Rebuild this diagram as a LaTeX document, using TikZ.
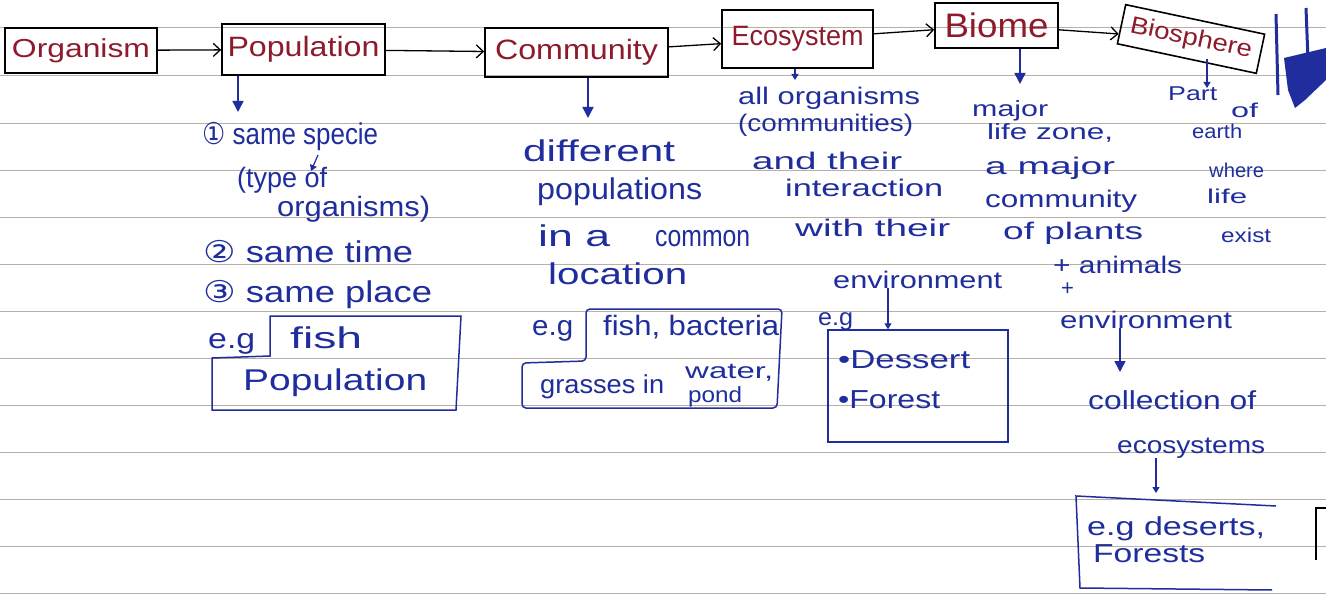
\documentclass[tikz,border=0pt]{standalone}
\usepackage{fontspec}
\setmainfont{Liberation Sans}
\newfontfamily\symf{DejaVu Sans}
\usetikzlibrary{arrows.meta}
\definecolor{ink}{HTML}{1F2E9C}
\definecolor{redink}{HTML}{8E1B2B}
\definecolor{rulec}{HTML}{B8AFA6}
\newcommand\fw[2]{\resizebox{#1pt}{\height}{#2}}
\begin{document}
\begin{tikzpicture}[x=1pt,y=-1pt,
  t/.style={inner sep=0pt, anchor=base west, text=ink, font=\fontsize{#1}{#1}\selectfont},
  lbl/.style={draw=black, line width=1.6pt, inner sep=0pt, text=redink, font=\fontsize{#1}{#1}\selectfont},
  bline/.style={draw=ink, line width=1.5pt},
  chain/.style={draw=black, line width=1.3pt, -{Straight Barb[length=7pt,width=13pt]}},
  down/.style={draw=ink, line width=1.5pt, -{Triangle[length=11pt,width=11pt]}},
  sdown/.style={draw=ink, line width=1.2pt, -{Triangle[length=6pt,width=7pt]}},
  rl/.style={draw=rulec, line width=0.8pt}]
\useasboundingbox (0,0) rectangle (1326,596);
\fill[white] (0,0) rectangle (1326,596);
% ruled lines
\foreach \yy in {27,75,123,170,217,264,311,358,405,452,499,546,593}
  \draw[rl] (0,\yy) -- (1326,\yy);

% top chain
\node[lbl=26, minimum width=152pt, minimum height=45pt] (org) at (81,50.5) {\fw{138}{Organism}};
\node[lbl=28, minimum width=163pt, minimum height=51pt] (pop) at (303.5,49.5) {\fw{152}{Population}};
\node[lbl=28, minimum width=183pt, minimum height=49pt] (com) at (576.5,52.5) {\fw{163}{Community}};
\node[lbl=28, minimum width=151pt, minimum height=58pt] (eco) at (797.5,39) {\fw{132}{Ecosystem}};
\node[lbl=34, minimum width=123pt, minimum height=45pt] (bio) at (996.5,25.5) {\fw{104}{Biome}};
\node[lbl=24, minimum width=142pt, minimum height=40pt, rotate=-12] (bsp) at (1191,39) {\fw{124}{Biosphere}};
\draw[chain] (org) -- (pop);
\draw[chain] (pop) -- (com);
\draw[chain] (com) -- (eco);
\draw[chain] (eco) -- (bio);
\draw[chain] (bio) -- (bsp);

% down arrows
\coordinate (popd) at (238,112);
\coordinate (comd) at (588,118);
\coordinate (ecod) at (795,80);
\coordinate (biod) at (1020,84);
\coordinate (bspd) at (1207,88);
\draw[down] (pop.south -| popd) -- (popd);
\draw[down] (com.south -| comd) -- (comd);
\draw[sdown] (eco.south -| ecod) -- (ecod);
\draw[down] (bio.south -| biod) -- (biod);
\draw[sdown] (bsp.south -| bspd) -- (bspd);

% Population column
\node[t=30] (p1) at (202,145) {\fw{176}{{\symf ①} same specie}};
\node[t=28] (p2) at (237,188) {\fw{90}{(type of}};
\node[t=28] (p3) at (277,217) {\fw{153}{organisms)}};
\node[t=30] (p4) at (203,263) {\fw{210}{{\symf ②} same time}};
\node[t=30] (p5) at (203,302) {\fw{229}{{\symf ③} same place}};
\draw[sdown] (318,155) -- (311,171);
\node[t=28] (eg1) at (208,348) {\fw{47}{e.g}};
\draw[bline] (270,316) -- (461,316) -- (456,410) -- (212,410) -- (212,358) -- (270,356) -- cycle;
\node[t=30] (fish) at (290,348) {\fw{72}{fish}};
\node[t=30] (popx) at (243,390) {\fw{184}{Population}};

% Community column
\node[t=30] (c1) at (523,162) {\fw{152}{different}};
\node[t=30] (c2) at (537,200) {\fw{165}{populations}};
\node[t=30] (c3) at (538,247) {\fw{72}{in a}};
\node[t=30] (c3b) at (655,247) {\fw{95}{common}};
\node[t=30] (c4) at (548,285) {\fw{139}{location}};
\node[t=28] (eg2) at (532,335) {\fw{41}{e.g}};
\draw[bline, rounded corners=4pt] (586,309) -- (782,309) -- (777,408) -- (522,408) -- (522,363) -- (586,361) -- cycle;
\node[t=28] (fb) at (603,335) {\fw{176}{fish, bacteria}};
\node[t=26] (gr) at (540,393) {\fw{124}{grasses in}};
\node[t=22] (wa) at (685,378) {\fw{88}{water,}};
\node[t=22] (pd) at (688,402) {\fw{54}{pond}};

% Ecosystem column
\node[t=24] (e1) at (738,105) {\fw{182}{all organisms}};
\node[t=24] (e2) at (738,132) {\fw{175}{(communities)}};
\node[t=24] (e3) at (752,170) {\fw{150}{and their}};
\node[t=24] (e4) at (785,197) {\fw{158}{interaction}};
\node[t=24] (e5) at (795,237) {\fw{155}{with their}};
\node[t=24] (env) at (833,288) {\fw{169}{environment}};
\node[t=24] (eg3) at (818,326) {\fw{35}{e.g}};
\node[bline, minimum width=180pt, minimum height=112pt, inner sep=0pt] (ecobox) at (918,386) {};
\coordinate (envx) at (888,0);
\draw[sdown] (env.south -| envx) -- (ecobox.north -| envx);
\node[t=26] (d1) at (838,368) {\fw{132}{•Dessert}};
\node[t=26] (d2) at (838,408) {\fw{102}{•Forest}};

% Biome column
\node[t=22] (b1) at (972,117) {\fw{76}{major}};
\node[t=22] (b2) at (987,140) {\fw{126}{life zone,}};
\node[t=24] (b3) at (985,175) {\fw{130}{a major}};
\node[t=24] (b4) at (985,208) {\fw{152}{community}};
\node[t=24] (b5) at (1003,240) {\fw{140}{of plants}};
\node[t=24] (b6) at (1053,273) {\fw{129}{+ animals}};
\node[t=22] (b7) at (1061,296) {+};
\node[t=24] (b8) at (1060,328) {\fw{172}{environment}};
\coordinate (collt) at (1120,372);
\draw[down] (b8.south -| collt) -- (collt);
\node[t=26] (coll) at (1088,409) {\fw{168}{collection of}};
\node[t=24] (ecos) at (1117,453) {\fw{148}{ecosystems}};
\coordinate (boxt) at (1156,493);
\draw[sdown] (ecos.south -| boxt) -- (boxt);
\draw[bline] (1276,506) -- (1076,496) -- (1080,588) -- (1272,590);
\node[t=26] (eg4) at (1087,535) {\fw{178}{e.g deserts,}};
\node[t=26] (fr) at (1093,562) {\fw{112}{Forests}};

% Biosphere column
\node[t=20] (q1) at (1168,101) {\fw{49}{Part}};
\node[t=20] (q2) at (1231,118) {\fw{27}{of}};
\node[t=20] (q3) at (1192,139) {\fw{50}{earth}};
\node[t=20] (q4) at (1209,178) {\fw{55}{where}};
\node[t=20] (q5) at (1207,204) {\fw{40}{life}};
\node[t=20] (q6) at (1221,243) {\fw{50}{exist}};

% page-edge marks
\draw[ink, line width=3pt] (1276,14) -- (1278,95);
\draw[ink, line width=3pt] (1306,8) -- (1308,60);
\fill[ink] (1284,58) -- (1326,48) -- (1326,80) -- (1305,100) -- (1295,108) -- (1288,90) -- cycle;
\draw[black, line width=2pt] (1326,508) -- (1316,508) -- (1316,560);
\end{tikzpicture}
\end{document}
